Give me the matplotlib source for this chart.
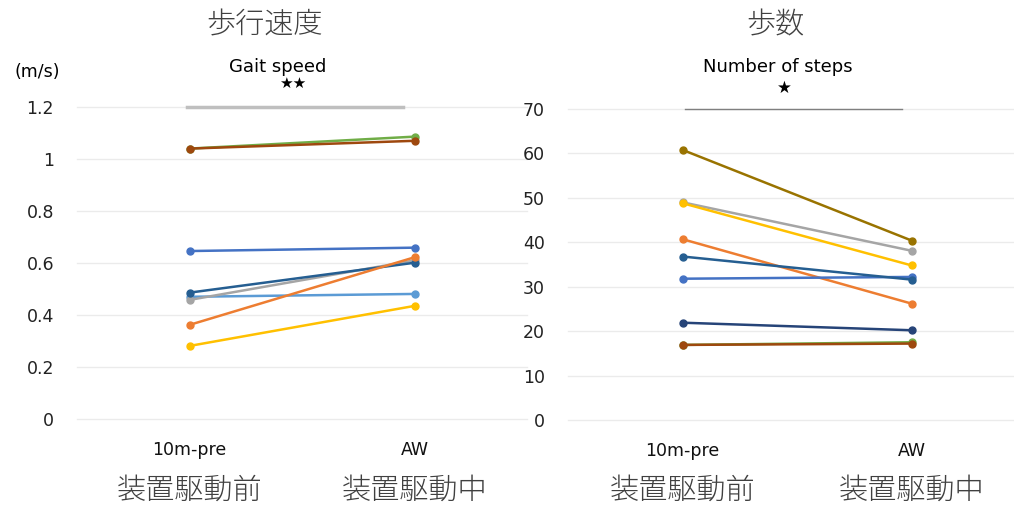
import matplotlib.pyplot as plt

plt.rcParams['font.family'] = ['DejaVu Sans', 'Noto Sans CJK JP']

# categories
conds = ['10m-pre', 'AW']
conds_jp = ['装置駆動前', '装置駆動中']

# gait speed (m/s), pre / during, one pair per subject
speed_pairs = [
    (1.040, 1.086),   # green
    (1.040, 1.070),   # brown
    (0.646, 0.659),   # blue
    (0.470, 0.481),   # light blue
    (0.458, 0.610),   # gray
    (0.486, 0.601),   # dark blue
    (0.362, 0.622),   # orange
    (0.281, 0.435),   # yellow
]
speed_colors = ['#70AD47', '#9E480E', '#4472C4', '#5B9BD5', '#A5A5A5',
                '#255E91', '#ED7D31', '#FFC000']
speed_ticks = [0, 0.2, 0.4, 0.6, 0.8, 1.0, 1.2]
speed_ticklabels = ['0', '0.2', '0.4', '0.6', '0.8', '1', '1.2']

# number of steps
steps_pairs = [
    (60.8, 40.4),   # olive
    (49.0, 38.1),   # gray
    (48.8, 34.8),   # yellow
    (40.7, 26.2),   # orange
    (31.8, 32.2),   # blue
    (36.8, 31.6),   # steel blue
    (21.9, 20.2),   # navy
    (16.9, 17.5),   # green
    (16.9, 17.2),   # brown
]
steps_colors = ['#997300', '#A5A5A5', '#FFC000', '#ED7D31', '#4472C4',
                '#255E91', '#264478', '#70AD47', '#9E480E']
steps_ticks = [0, 10, 20, 30, 40, 50, 60, 70]

fig = plt.figure(figsize=(10.14, 5.08), dpi=100)
W, H = 1014, 508
JP = ['Noto Sans CJK JP', 'DejaVu Sans']


def make_ax(x0, x1, ybot, ytop):
    return fig.add_axes([x0 / W, (H - ybot) / H, (x1 - x0) / W, (ybot - ytop) / H])


def style(ax, ticks, labels):
    ax.set_xlim(-0.5, 1.5)
    ax.set_ylim(ticks[0], ticks[-1])
    for s in ax.spines.values():
        s.set_visible(False)
    ax.set_yticks(ticks)
    ax.set_yticklabels(labels, fontsize=12.5, color='#222222')
    ax.tick_params(axis='y', length=0, pad=16.5)
    ax.set_xticks([0, 1])
    ax.set_xticklabels(conds, fontsize=12.5, color='#111111')
    ax.tick_params(axis='x', length=0, pad=16)
    for t in ticks:
        ax.axhline(t, color='#EBEBEB', lw=1, zorder=0, clip_on=False)
    for i, lab in enumerate(conds_jp):
        ax.text(i, -0.228, lab, transform=ax.get_xaxis_transform(),
                ha='center', va='center', fontsize=21, color='#404040',
                family=JP, fontweight='light')
    ax.patch.set_alpha(0)


# left: gait speed
ax1 = make_ax(77, 527, 419, 107)
style(ax1, speed_ticks, speed_ticklabels)
for (a, b), c in zip(speed_pairs, speed_colors):
    ax1.plot([0, 1], [a, b], color=c, lw=1.8, marker='o', ms=5, clip_on=False)
ax1.plot([-0.01, 0.95], [1.2, 1.2], color='#BFBFBF', lw=2.5, clip_on=False, zorder=1)
ax1.text(0.46, 1.29, '★★', ha='center', va='center', fontsize=11)
ax1.text(0.39, 1.355, 'Gait speed', ha='center', va='center', fontsize=13)
fig.text(37 / W, 1 - 72 / H, '(m/s)', ha='center', va='center', fontsize=12.5)
fig.text(265 / W, 1 - 25 / H, '歩行速度', ha='center', va='center', fontsize=21,
         color='#404040', family=JP, fontweight='light')

# right: number of steps
ax2 = make_ax(568, 1026, 420, 109)
style(ax2, steps_ticks, [str(t) for t in steps_ticks])
for (a, b), c in zip(steps_pairs, steps_colors):
    ax2.plot([0, 1], [a, b], color=c, lw=1.8, marker='o', ms=5, clip_on=False)
ax2.plot([0.01, 0.96], [70, 70], color='#7F7F7F', lw=1, clip_on=False, zorder=1)
ax2.text(0.445, 74.7, '★', ha='center', va='center', fontsize=12)
ax2.text(0.415, 79.4, 'Number of steps', ha='center', va='center', fontsize=13)
fig.text(775 / W, 1 - 25 / H, '歩数', ha='center', va='center', fontsize=21,
         color='#404040', family=JP, fontweight='light')

fig.savefig('out.png', dpi=100)
